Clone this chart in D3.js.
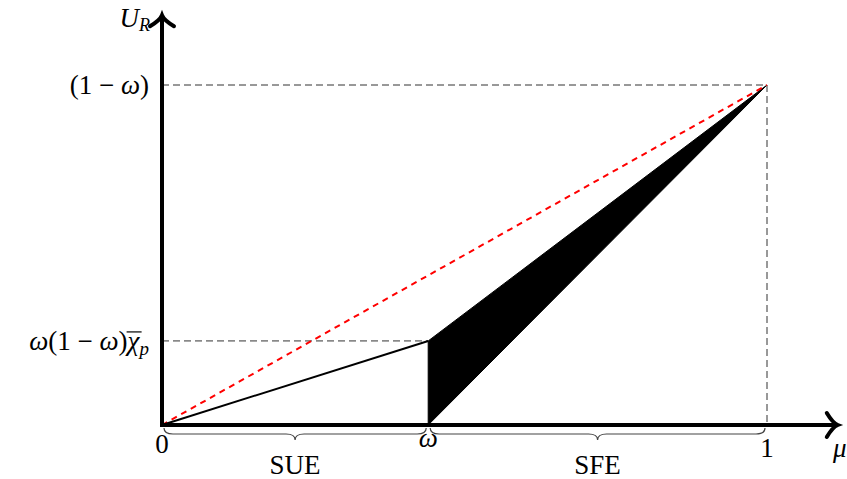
<!DOCTYPE html>
<html><head><meta charset="utf-8">
<script src="https://cdn.jsdelivr.net/npm/d3@7"></script>
<style>body{margin:0;background:#fff}svg{display:block}text{font-family:"Liberation Serif","DejaVu Serif",serif}</style>
</head><body><svg id="c" width="847" height="479"></svg>
<script>
// data (unit coordinates)
const omega = 0.44;
const chiBar = 0.562;
const xTicks = [{v:0,label:"0"},{v:omega,label:"ω"},{v:1,label:"1"}];
const regions = [{a:0,b:omega,label:"SUE"},{a:omega,b:1,label:"SFE"}];
const xMax = 1.117, yMax = 0.675;

const svg = d3.select("#c");
const x = d3.scaleLinear().domain([0,1]).range([162,767]);
const y = d3.scaleLinear().domain([0,1-omega]).range([425,85]);
const line = d3.line().x(d=>x(d[0])).y(d=>y(d[1]));
const yMid = omega*(1-omega)*chiBar, yTop = 1-omega;
const FS = 27;

// shaded region
svg.append("path").attr("d", line([[omega,0],[omega,yMid],[1,yTop]])+"Z").attr("fill","#000").attr("stroke","#000").attr("stroke-width",1);

// dashed grey guides
svg.append("path").attr("d", line([[0,yTop],[1,yTop],[1,0]])).attr("fill","none").attr("stroke","#333").attr("stroke-width",1).attr("stroke-dasharray","7,4");
svg.append("path").attr("d", line([[0,yMid],[omega,yMid]])).attr("fill","none").attr("stroke","#333").attr("stroke-width",1).attr("stroke-dasharray","7,4");

// red dashed
svg.append("path").attr("d", line([[0,0],[1,yTop]])).attr("fill","none").attr("stroke","#f00").attr("stroke-width",2).attr("stroke-dasharray","6,5");
// solid line
svg.append("path").attr("d", line([[0,0],[omega,yMid]])).attr("fill","none").attr("stroke","#000").attr("stroke-width",2);

// axes
const x0 = x(0), y0 = y(0), xe = x(xMax), ye = y(yMax);
svg.append("line").attr("x1",x0).attr("y1",y0).attr("x2",xe-2).attr("y2",y0).attr("stroke","#000").attr("stroke-width",4);
svg.append("line").attr("x1",x0).attr("y1",y0+2).attr("x2",x0).attr("y2",ye+2).attr("stroke","#000").attr("stroke-width",4);
// arrowheads
svg.append("path").attr("d",`M${xe-11},${y0-12} Q${xe-5},${y0-2} ${xe},${y0} Q${xe-5},${y0+2} ${xe-11},${y0+12}`).attr("fill","none").attr("stroke","#000").attr("stroke-width",4).attr("stroke-linecap","round");
svg.append("path").attr("d",`M${x0-12},${ye+11} Q${x0-2},${ye+5} ${x0},${ye} Q${x0+2},${ye+5} ${x0+12},${ye+11}`).attr("fill","none").attr("stroke","#000").attr("stroke-width",4).attr("stroke-linecap","round");

// axis labels
svg.append("text").attr("x",150).attr("y",27).attr("text-anchor","end").attr("font-size",FS).attr("font-style","italic").html('U<tspan font-size="18" dy="4">R</tspan>');
svg.append("text").attr("x",833).attr("y",y0+32).attr("font-size",FS).attr("font-style","italic").text("μ");

// x tick labels
svg.selectAll(".xt").data(xTicks).join("text").attr("x",d=>x(d.v)).attr("y",(d,i)=>[453,447,457][i]).attr("text-anchor","middle").attr("font-size",FS).attr("font-style",d=>d.label==="ω"?"italic":"normal").text(d=>d.label);

// y labels
svg.append("text").attr("x",149).attr("y",y(yTop)+9).attr("text-anchor","end").attr("font-size",FS).html('(1\u2005−\u2005<tspan font-style="italic">ω</tspan>)');
svg.append("text").attr("x",149).attr("y",y(yMid)+9).attr("text-anchor","end").attr("font-size",FS).html('<tspan font-style="italic">ω</tspan>(1\u2005−\u2005<tspan font-style="italic">ω</tspan>)<tspan id="chi" font-style="italic">χ</tspan><tspan font-size="19" font-style="italic" dy="5">p</tspan>');
// overline on chi
const bb = document.getElementById("chi").getBBox();
svg.append("line").attr("x1",bb.x+2).attr("x2",bb.x+bb.width+1).attr("y1",y(yMid)-9).attr("y2",y(yMid)-9).attr("stroke","#000").attr("stroke-width",1.2);

// braces
function brace(xa, xb, yt){
  const m=(xa+xb)/2, h=6, r=6;
  return `M${xa},${yt} Q${xa},${yt+h} ${xa+r*1.5},${yt+h} L${m-r*1.5},${yt+h} Q${m},${yt+h} ${m},${yt+2*h} Q${m},${yt+h} ${m+r*1.5},${yt+h} L${xb-r*1.5},${yt+h} Q${xb},${yt+h} ${xb},${yt}`;
}
svg.selectAll(".br").data(regions).join("path").attr("d",d=>brace(x(d.a)+2,x(d.b)-2,428)).attr("fill","none").attr("stroke","#444").attr("stroke-width",1.2);
svg.selectAll(".rl").data(regions).join("text").attr("x",d=>x((d.a+d.b)/2)).attr("y",474).attr("text-anchor","middle").attr("font-size",FS).text(d=>d.label);
</script></body></html>
